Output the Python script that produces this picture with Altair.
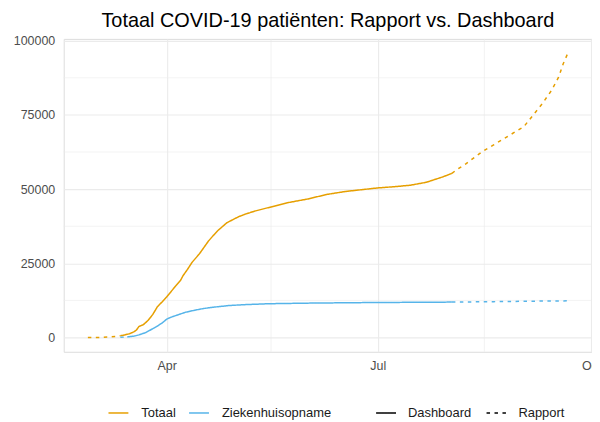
import altair as alt
import pandas as pd

# Totaal - Dashboard (solid)
tot_dash_dates = ["2020-03-12", "2020-03-14", "2020-03-16", "2020-03-18", "2020-03-19", "2020-03-20",
                  "2020-03-22", "2020-03-24", "2020-03-26", "2020-03-28", "2020-03-30", "2020-04-01",
                  "2020-04-03", "2020-04-05", "2020-04-07", "2020-04-08", "2020-04-10", "2020-04-12",
                  "2020-04-15", "2020-04-17", "2020-04-19", "2020-04-21", "2020-04-23", "2020-04-27",
                  "2020-05-02", "2020-05-05", "2020-05-09", "2020-05-16", "2020-05-23", "2020-06-01",
                  "2020-06-09", "2020-06-17", "2020-06-24", "2020-07-01", "2020-07-08", "2020-07-15",
                  "2020-07-22", "2020-07-29", "2020-08-02"]
tot_dash_vals = [600, 900, 1300, 2000, 2600, 3700,
                 4400, 5800, 7800, 10400, 12000, 13700,
                 15600, 17500, 19300, 20800, 23000, 25400,
                 28100, 30300, 32500, 34300, 36000, 38700,
                 40700, 41600, 42600, 44000, 45400, 46700,
                 48200, 49200, 49800, 50400, 50800, 51300,
                 52300, 54100, 55300]

# Totaal - Rapport (dotted), early and late segments
tot_rap_early_dates = ["2020-02-27", "2020-03-03", "2020-03-07", "2020-03-10", "2020-03-12"]
tot_rap_early_vals = [0, 50, 200, 400, 600]
tot_rap_late_dates = ["2020-08-02", "2020-08-04", "2020-08-08", "2020-08-15", "2020-08-20",
                      "2020-08-27", "2020-09-02", "2020-09-06", "2020-09-10", "2020-09-14",
                      "2020-09-17", "2020-09-19", "2020-09-21"]
tot_rap_late_vals = [55300, 56500, 58500, 62600, 64900,
                     68200, 71000, 74900, 78800, 83300,
                     87700, 92200, 95800]

# Ziekenhuisopname - Dashboard (solid)
zh_dash_dates = ["2020-03-15", "2020-03-18", "2020-03-20", "2020-03-23", "2020-03-26", "2020-03-28",
                 "2020-03-30", "2020-04-01", "2020-04-03", "2020-04-06", "2020-04-09", "2020-04-13",
                 "2020-04-17", "2020-04-22", "2020-04-28", "2020-05-05", "2020-05-15", "2020-06-01",
                 "2020-06-20", "2020-07-10", "2020-08-02"]
zh_dash_vals = [200, 500, 900, 1700, 3000, 3900,
                4900, 6200, 6900, 7700, 8500, 9200,
                9800, 10300, 10800, 11100, 11400, 11600,
                11750, 11850, 11950]

# Ziekenhuisopname - Rapport (dotted)
zh_rap_early_dates = ["2020-03-12", "2020-03-15"]
zh_rap_early_vals = [100, 200]
zh_rap_late_dates = ["2020-08-02", "2020-08-20", "2020-09-05", "2020-09-21"]
zh_rap_late_vals = [11950, 12100, 12250, 12370]

categories = ["Totaal", "Ziekenhuisopname"]
sources = ["Dashboard", "Rapport"]
colors = ["#E69F00", "#56B4E9"]

y_ticks = [0, 25000, 50000, 75000, 100000]
y_minor = [12500, 37500, 62500, 87500]
x_minor = ["2020-05-16", "2020-08-16"]
month_labels = ["Jan", "Feb", "Mar", "Apr", "May", "Jun", "Jul", "Aug", "Sep", "Oct", "Nov", "Dec"]

rows = []
def add(dates, vals, cat, src, seg):
    for d, v in zip(dates, vals):
        rows.append({"date": d, "value": v, "cat": cat, "src": src, "seg": seg})

add(tot_dash_dates, tot_dash_vals, "Totaal", "Dashboard", "t_d")
add(tot_rap_early_dates, tot_rap_early_vals, "Totaal", "Rapport", "t_r1")
add(tot_rap_late_dates, tot_rap_late_vals, "Totaal", "Rapport", "t_r2")
add(zh_dash_dates, zh_dash_vals, "Ziekenhuisopname", "Dashboard", "z_d")
add(zh_rap_early_dates, zh_rap_early_vals, "Ziekenhuisopname", "Rapport", "z_r1")
add(zh_rap_late_dates, zh_rap_late_vals, "Ziekenhuisopname", "Rapport", "z_r2")
df = pd.DataFrame(rows)

FONT = "Liberation Sans"
x_scale = alt.Scale(type="utc", domain=[alt.DateTime(year=2020, month=2, date=16, hours=14, utc=True),
                                        alt.DateTime(year=2020, month=10, date=1, hours=10, utc=True)])
y_scale = alt.Scale(domain=[-4790, 100590], nice=False, zero=False)

label_expr = "[" + ",".join("'%s'" % m for m in month_labels) + "][utcmonth(datum.value)]"

minor_y = alt.Chart(pd.DataFrame({"v": y_minor})).mark_rule(color="#EBEBEB", strokeWidth=0.6).encode(
    y=alt.Y("v:Q", scale=y_scale))
minor_x = alt.Chart(pd.DataFrame({"d": x_minor})).mark_rule(color="#EBEBEB", strokeWidth=0.6).encode(
    x=alt.X("d:T", scale=x_scale))

lines = alt.Chart(df).mark_line(strokeWidth=1.5, strokeCap="butt").encode(
    x=alt.X("date:T", scale=x_scale, title=None,
            axis=alt.Axis(values=[alt.DateTime(year=2020, month=m, date=1, utc=True) for m in (4, 7, 10)],
                          labelExpr=label_expr, grid=True, gridColor="#EBEBEB", gridWidth=1.1,
                          domain=False, ticks=False, labelPadding=8, labelColor="#4D4D4D",
                          labelFontSize=12.5, labelFont=FONT, labelFlush=False, labelBound=False,
                          labelOverlap=False)),
    y=alt.Y("value:Q", scale=y_scale, title=None,
            axis=alt.Axis(values=y_ticks, format="d", grid=True, gridColor="#EBEBEB", gridWidth=1.1,
                          domain=False, ticks=False, labelPadding=9, labelColor="#4D4D4D",
                          labelFontSize=12.5, labelFont=FONT, labelFlush=False)),
    color=alt.Color("cat:N", scale=alt.Scale(domain=categories, range=colors),
                    legend=alt.Legend(title=None, orient="none", direction="horizontal",
                                      legendX=44, legendY=365, symbolType="stroke", symbolSize=400,
                                      symbolStrokeWidth=1.5, labelOffset=12, columnPadding=10,
                                      labelFontSize=13, labelFont=FONT, labelColor="#1a1a1a")),
    strokeDash=alt.StrokeDash("src:N", scale=alt.Scale(domain=sources, range=[[1, 0], [3.5, 4.5]]),
                              legend=alt.Legend(title=None, orient="none", direction="horizontal",
                                                legendX=313, legendY=365, symbolType="stroke",
                                                symbolSize=400, symbolStrokeWidth=1.5,
                                                symbolStrokeColor="black", labelOffset=11,
                                                columnPadding=12, labelFontSize=13, labelFont=FONT,
                                                labelColor="#1a1a1a")),
    detail="seg:N",
)

chart = alt.layer(minor_y, minor_x, lines).properties(
    width=531, height=314.5,
    title=alt.Title("Totaal COVID-19 patiënten: Rapport vs. Dashboard", fontSize=20, font=FONT,
                    fontWeight="normal", color="black", anchor="middle", offset=4),
    autosize=alt.AutoSizeParams(type="none"),
    padding={"left": 56, "top": 30, "right": 0, "bottom": 69},
).configure_view(stroke=None).configure(background="white")

chart.save("out.html", embed_options={"renderer": "svg", "actions": False})
